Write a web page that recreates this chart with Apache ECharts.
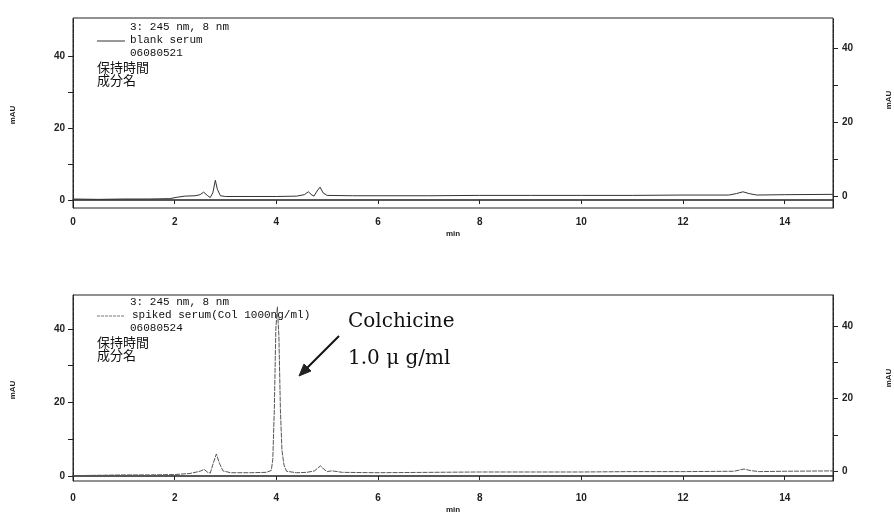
<!DOCTYPE html>
<html>
<head>
<meta charset="utf-8">
<script src="https://cdn.jsdelivr.net/npm/echarts@6/dist/echarts.min.js"></script>
<style>
html,body{margin:0;padding:0;background:#fff;}
#c{width:894px;height:515px;}
</style>
</head>
<body>
<div id="c"></div>
<script>
// ---- data ----
var blankTime = [0.0,0.5,1.0,1.5,1.9,2.05,2.2,2.4,2.5,2.57,2.65,2.7,2.75,2.8,2.84,2.9,3.0,3.5,4.0,4.4,4.55,4.63,4.7,4.74,4.8,4.86,4.92,5.0,5.5,6,7,8,9,10,11,12,12.9,13.05,13.18,13.3,13.45,14,15];
var blankVal  = [0.3,0.2,0.3,0.3,0.4,0.8,1.1,1.2,1.5,2.2,1.2,0.7,2.0,5.5,3.0,1.2,1.0,1.0,1.0,1.1,1.5,2.3,1.4,1.1,2.5,3.6,2.0,1.3,1.2,1.2,1.2,1.3,1.3,1.3,1.3,1.4,1.4,1.8,2.3,1.8,1.4,1.5,1.6];

var spikedTime = [0.0,0.5,1.0,1.5,2.0,2.3,2.5,2.58,2.65,2.7,2.76,2.82,2.88,2.95,3.1,3.5,3.8,3.9,3.93,3.96,3.99,4.02,4.05,4.08,4.11,4.15,4.2,4.4,4.6,4.75,4.82,4.87,4.93,5.0,5.08,5.15,5.3,6,7,8,9,10,11,12,13,13.1,13.2,13.32,13.5,14,15];
var spikedVal  = [0.1,0.2,0.3,0.3,0.4,0.7,1.3,1.8,1.0,0.8,3.5,6.0,3.5,1.4,0.9,0.9,1.0,1.5,4.5,18,40,46,38,18,7,3,1.3,0.9,1.0,1.4,2.2,2.8,1.9,1.2,1.4,1.3,1.0,0.9,1.0,1.1,1.1,1.1,1.2,1.2,1.3,1.6,1.9,1.5,1.2,1.3,1.4];

var xTicks = [0,2,4,6,8,10,12,14];
var yLabels = [0,20,40];
var yTicks = [0,10,20,30,40];

var header1 = ['3: 245 nm, 8 nm','blank serum','06080521','保持時間','成分名'];
var header2 = ['3: 245 nm, 8 nm','spiked serum(Col 1000ng/ml)','06080524','保持時間','成分名'];
var noteLines = ['Colchicine','1.0 μ g/ml'];

function zip(a,b){var r=[];for(var i=0;i<a.length;i++)r.push([a[i],b[i]]);return r;}

var chart = echarts.init(document.getElementById('c'), null, {renderer:'canvas'});
var ink = '#222';
var lblFont = {fontFamily:'Liberation Sans, Arial, sans-serif', fontWeight:'bold', fontSize:10, color:ink};

function xAxisCfg(gi, margin, gap){
  return {
    type:'value', gridIndex:gi, min:0, max:14.95, interval:2,
    axisLine:{show:true, lineStyle:{color:ink, width:1.5}},
    axisTick:{show:true, length:4, inside:false, lineStyle:{color:ink}},
    axisLabel:Object.assign({margin:margin, customValues:xTicks}, lblFont),
    splitLine:{show:false},
    name:'min', nameLocation:'middle', nameGap:gap,
    nameTextStyle:{fontFamily:'Liberation Sans, Arial, sans-serif', fontWeight:'bold', fontSize:8, color:ink}
  };
}
function yAxisCfg(gi, pos, min, max){
  return {
    type:'value', gridIndex:gi, position:pos, min:min, max:max,
    axisLine:{show:true, lineStyle:{color:ink, width:1, type:[4,1]}},
    axisTick:{show:true, length:5, inside:false, customValues:yTicks, lineStyle:{color:ink}},
    axisLabel:Object.assign({margin:pos==='left'?8:9, customValues:yLabels}, lblFont),
    splitLine:{show:false}
  };
}

function headerGraphics(lines, top, dashed){
  var g = [];
  var mono = 'Liberation Mono, DejaVu Sans Mono, monospace';
  g.push({type:'text', left:130, top:top, style:{text:lines[0], font:'11px '+mono, fill:'#111'}});
  g.push({type:'line', shape:{x1:97,y1:top+19,x2:125,y2:top+19}, style:{stroke:dashed?'#777':'#333', lineWidth:1, lineDash:dashed?[3,1]:null}});
  g.push({type:'text', left:dashed?132:130, top:top+13, style:{text:lines[1], font:'11px '+mono, fill:'#111'}});
  g.push({type:'text', left:130, top:top+26, style:{text:lines[2], font:'11px '+mono, fill:'#111'}});
  g.push({type:'text', left:97, top:top+39, style:{text:lines[3], font:'13px "Noto Sans CJK JP"', fill:'#111'}});
  g.push({type:'text', left:97, top:top+52, style:{text:lines[4], font:'13px "Noto Sans CJK JP"', fill:'#111'}});
  return g;
}

var graphics = [];
graphics = graphics.concat(headerGraphics(header1, 22, false));
graphics = graphics.concat(headerGraphics(header2, 297, true));
// mAU labels
var mauFont = 'bold 8px Liberation Sans, Arial, sans-serif';
[[13,115],[13,390],[889,100],[889,378]].forEach(function(p){
  graphics.push({type:'text', x:p[0], y:p[1], rotation:Math.PI/2, style:{text:'mAU', font:mauFont, fill:ink, align:'center', verticalAlign:'middle'}});
});
// annotation
graphics.push({type:'text', left:348, top:312, style:{text:noteLines[0], font:'20px "DejaVu Serif", serif', fill:'#111'}});
graphics.push({type:'text', left:348, top:349, style:{text:noteLines[1], font:'20px "DejaVu Serif", serif', fill:'#111'}});
graphics.push({type:'line', shape:{x1:339,y1:336,x2:306,y2:369}, style:{stroke:'#111', lineWidth:2}});
graphics.push({type:'polygon', shape:{points:[[299,376],[311,371],[304,364]]}, style:{fill:'#222', stroke:'#222', lineWidth:1}});

var option = {
  backgroundColor:'#fff',
  animation:false,
  grid:[
    {left:73, top:18, width:760, height:190, show:true, borderColor:'#222', borderWidth:1, containLabel:false},
    {left:73, top:295, width:760, height:187, show:true, borderColor:'#222', borderWidth:1, containLabel:false}
  ],
  xAxis:[ xAxisCfg(0, 9, 22), xAxisCfg(1, 12, 25) ],
  yAxis:[
    yAxisCfg(0,'left',-2.2,50.6),
    yAxisCfg(0,'right',-3.24,48.1),
    yAxisCfg(1,'left',-1.35,49.2),
    yAxisCfg(1,'right',-2.74,48.5)
  ],
  series:[
    {type:'line', xAxisIndex:0, yAxisIndex:0, data:zip(blankTime,blankVal), showSymbol:false, symbol:'none',
     lineStyle:{color:'#333', width:1}},
    {type:'line', xAxisIndex:1, yAxisIndex:2, data:zip(spikedTime,spikedVal), showSymbol:false, symbol:'none',
     lineStyle:{color:'#555', width:1, type:[5,1]}}
  ],
  graphic:graphics
};
chart.setOption(option);
</script>
</body>
</html>
